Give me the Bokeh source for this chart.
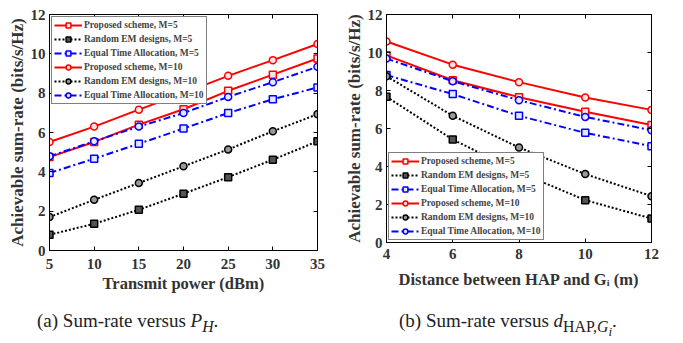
from bokeh.plotting import figure
from bokeh.layouts import row, column
from bokeh.models import Range1d, Legend, Div, FixedTicker, LinearAxis
from bokeh.embed import file_html
from bokeh.resources import INLINE

# ---- data, panel (a)
power = [5, 10, 15, 20, 25, 30, 35]
a_prop5 = [4.75, 5.52, 6.40, 7.18, 8.12, 8.94, 9.76]
a_rand5 = [0.80, 1.36, 2.07, 2.89, 3.73, 4.62, 5.55]
a_eq5 = [3.94, 4.67, 5.43, 6.20, 6.99, 7.69, 8.29]
a_prop10 = [5.52, 6.30, 7.16, 8.00, 8.88, 9.68, 10.50]
a_rand10 = [1.70, 2.58, 3.43, 4.28, 5.14, 6.06, 6.93]
a_eq10 = [4.79, 5.55, 6.30, 6.99, 7.81, 8.56, 9.34]

# ---- data, panel (b)
dist = [4, 6, 8, 10, 12]
b_prop5 = [9.85, 8.54, 7.65, 6.88, 6.18]
b_rand5 = [7.67, 5.42, 3.70, 2.23, 1.26]
b_eq5 = [8.81, 7.81, 6.67, 5.77, 5.07]
b_prop10 = [10.58, 9.36, 8.44, 7.63, 6.98]
b_rand10 = [8.75, 6.67, 5.00, 3.60, 2.44]
b_eq10 = [9.68, 8.49, 7.49, 6.61, 5.91]

labels = ["Proposed scheme, M=5", "Random EM designs, M=5", "Equal Time Allocation, M=5",
          "Proposed scheme, M=10", "Random EM designs, M=10", "Equal Time Allocation, M=10"]
yticks = [0, 2, 4, 6, 8, 10, 12]

FONT = "'Liberation Serif', 'Times New Roman', Times, serif"
styles = [
    ("red", "solid", "square", "#ffe6e6"),
    ("black", "dotted", "square", "#555555"),
    ("blue", "dashdot", "square", "#e6e6ff"),
    ("red", "solid", "circle", "#ffe6e6"),
    ("black", "dotted", "circle", "#999999"),
    ("blue", "dashdot", "circle", "#e6e6ff"),
]
dash_map = {"solid": "solid", "dotted": "2 2", "dashdot": "7 3 2 3"}


def style_axis(ax, ticks, standoff):
    ax.ticker = FixedTicker(ticks=ticks)
    ax.major_tick_in = 4
    ax.major_tick_out = 0
    ax.minor_tick_in = 0
    ax.minor_tick_out = 0
    ax.major_label_text_font = FONT
    ax.major_label_text_font_style = "bold"
    ax.major_label_text_font_size = "15px"
    ax.major_label_text_color = "#333333"
    ax.axis_label_text_font = FONT
    ax.axis_label_text_font_style = "bold"
    ax.axis_label_text_color = "#333333"
    ax.axis_line_color = "black"
    ax.major_label_standoff = standoff
    ax.axis_label_standoff = 2


def make_panel(x, series, xticks, xr, xlabel, w, h, bl, bt, bb, br, loc, xstand, lstand):
    p = figure(width=w, height=h, output_backend="svg", toolbar_location=None,
               x_range=Range1d(*xr), y_range=Range1d(0, 12),
               min_border_left=bl, min_border_right=br, min_border_top=bt, min_border_bottom=bb)
    p.grid.visible = False
    p.outline_line_color = "black"
    p.outline_line_width = 1
    p.background_fill_color = "white"
    style_axis(p.xaxis[0], xticks, xstand)
    style_axis(p.yaxis[0], yticks, 4)
    p.xaxis.axis_label = xlabel
    p.xaxis.axis_label_text_font_size = "16.5px"
    p.xaxis.axis_label_standoff = lstand
    p.yaxis.axis_label = "Achievable sum-rate (bits/s/Hz)"
    p.yaxis.axis_label_text_font_size = "17px"
    p.yaxis.axis_label_standoff = 1
    # box ticks on the top and right, as in MATLAB
    for place, ticks in (("above", xticks), ("right", yticks)):
        ax = LinearAxis()
        style_axis(ax, ticks, 0)
        ax.major_label_text_font_size = "0px"
        ax.major_label_text_alpha = 0
        p.add_layout(ax, place)
    items = []
    for (color, dash, marker, fill), ys, lab in zip(styles, series, labels):
        r1 = p.line(x, ys, line_color=color, line_width=2, line_dash=dash_map[dash])
        r2 = p.scatter(x, ys, marker=marker, size=7, line_color=color, line_width=1.5,
                       fill_color=fill)
        items.append((lab, [r1, r2]))
    leg = Legend(items=items, location=loc)
    leg.label_text_font = FONT
    leg.label_text_font_style = "bold"
    leg.label_text_font_size = "9.5px"
    leg.glyph_width = 28
    leg.glyph_height = 12
    leg.label_height = 12
    leg.spacing = 2
    leg.padding = 2
    leg.margin = 2
    leg.label_standoff = 2
    leg.border_line_color = "black"
    leg.border_line_width = 1
    leg.background_fill_alpha = 1
    p.add_layout(leg)
    return p


# left figure: frame 268 x 236
p1 = make_panel(power, [a_prop5, a_rand5, a_eq5, a_prop10, a_rand10, a_eq10], power, (5, 35),
                "Transmit power (dBm)", 341, 300, 49, 14, 50, 24, "top_left", 8, 2)
# right figure: frame 268 x 228
p2 = make_panel(dist, [b_prop5, b_rand5, b_eq5, b_prop10, b_rand10, b_eq10], dist, (4, 12),
                "Distance between HAP and G\u1d62 (m)", 330, 292, 42, 14, 50, 20, "bottom_left", 6, 8)

cap_style = {"font-family": FONT, "font-size": "19px", "color": "#222222",
             "box-sizing": "border-box"}
d1 = Div(text="(a) Sum-rate versus <i>P</i><sub><i>H</i></sub>.", width=341, height=32,
         styles=dict(cap_style, **{"padding-left": "32px", "padding-top": "2px"}))
d2 = Div(text="(b) Sum-rate versus <i>d</i><sub>HAP,<i>G<sub>i</sub></i></sub>.", width=330, height=32,
         styles=dict(cap_style, **{"padding-left": "43px", "padding-top": "2px"}))

layout = column(row(p1, p2), row(d1, d2))
open("out.html", "w").write(file_html(layout, INLINE))
